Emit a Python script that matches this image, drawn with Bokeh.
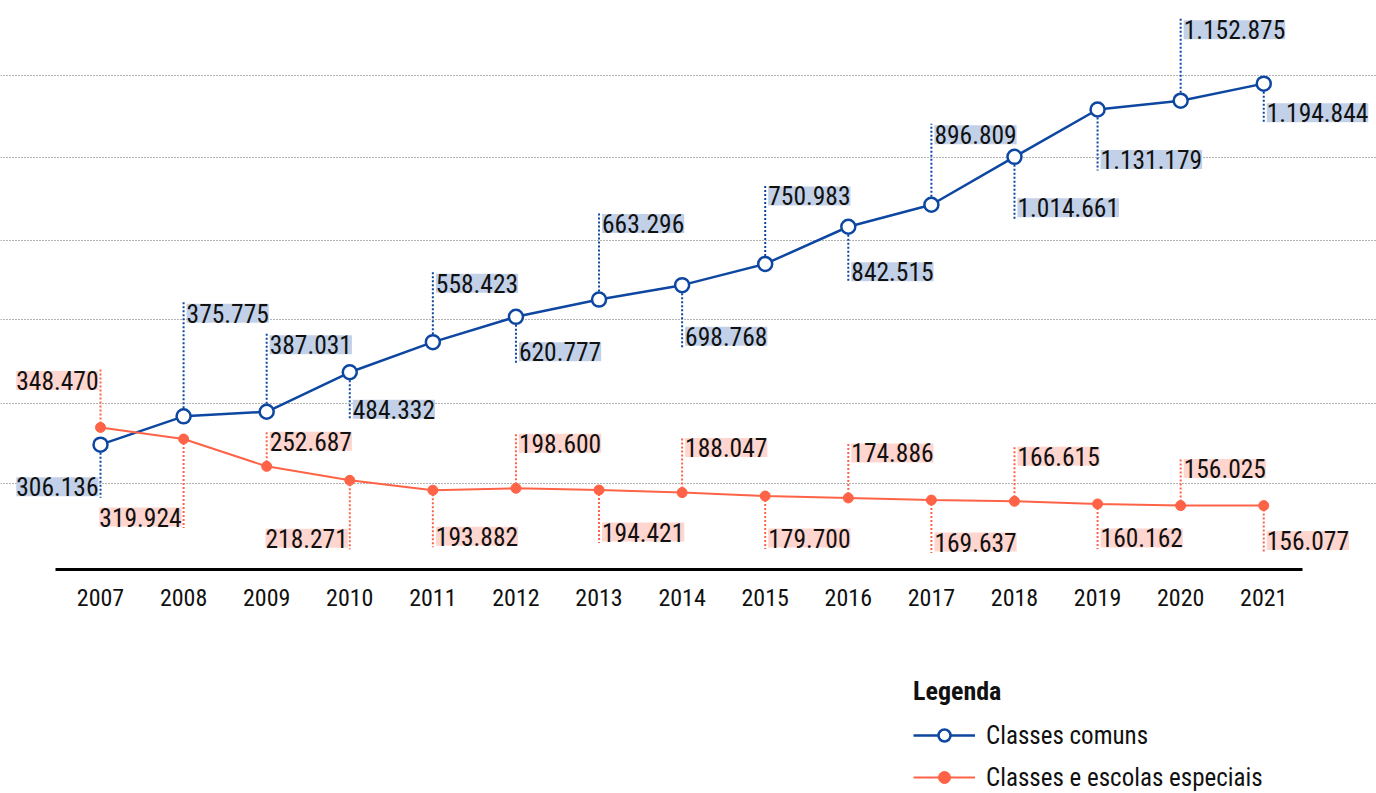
import math
from bokeh.plotting import figure
from bokeh.models import (ColumnDataSource, Range1d, LinearAxis, FixedTicker,
                          Grid, Legend, LegendItem)
from bokeh.core.properties import value
from bokeh.embed import file_html
from bokeh.resources import INLINE

# ---------------- data ----------------
years = [2007, 2008, 2009, 2010, 2011, 2012, 2013, 2014, 2015,
         2016, 2017, 2018, 2019, 2020, 2021]
classes_comuns = [306136, 375775, 387031, 484332, 558423, 620777, 663296,
                  698768, 750983, 842515, 896809, 1014661, 1131179,
                  1152875, 1194844]
classes_especiais = [348470, 319924, 252687, 218271, 193882, 198600, 194421,
                     188047, 179700, 174886, 169637, 166615, 160162,
                     156025, 156077]
grid_values = [210000, 407000, 614000, 809000, 1013000, 1215000]
series_names = ["Classes comuns", "Classes e escolas especiais"]

# ---------------- layout / style (label placement, px; + = below point) ----
comuns_label_off = [42, -103, -67, 37, -59, 35, -76, 51, -68, 45, -70, 51, 50, -71, 29]
especiais_label_off = [-47, 78, -25, 58, 46, -45, 42, -45, 42, -45, 42, -45, 34, -37, 35]
comuns_align = ["right"] + ["left"] * 14
especiais_align = ["right", "right", "left", "right"] + ["left"] * 11

FONT = "Roboto Condensed"
BLUE = "#0D47A1"
RED = "#FF6347"
BLUE_BG = "#C3D1E8"
RED_BG = "#FFD6CF"
BOX_HALF = 11


def fmt(v):
    return f"{v:,}".replace(",", ".")


def label_source(vals, offs, aligns):
    return ColumnDataSource(dict(
        x=years, y=vals, text=[fmt(v) for v in vals],
        yoff=offs,
        xoff=[3 if a == "left" else -2 for a in aligns],
        align=aligns,
        ang=[-math.pi / 2 if o > 0 else math.pi / 2 for o in offs],
        length=[abs(o) + BOX_HALF for o in offs],
    ))


W, H = 1376, 793
p = figure(width=W, height=H, output_backend="svg", toolbar_location=None,
           x_axis_location=None, y_axis_location=None,
           x_range=Range1d(2005.7965, 2022.357),
           y_range=Range1d(-552674, 1399533),
           min_border=0, outline_line_color=None)
p.xgrid.visible = False
p.ygrid.visible = False

grid = Grid(dimension=1, ticker=FixedTicker(ticks=grid_values),
            grid_line_color="#666666", grid_line_dash="1 2", grid_line_width=1)
p.add_layout(grid, "center")

xaxis = LinearAxis(fixed_location=0, ticker=FixedTicker(ticks=years),
                   major_label_overrides={y: str(y) for y in years},
                   axis_line_width=3, axis_line_color="#000000",
                   bounds=(2006.458, 2021.462),
                   major_tick_line_color=None, minor_tick_line_color=None,
                   major_tick_out=0, major_tick_in=0,
                   major_label_standoff=20,
                   major_label_text_font=FONT,
                   major_label_text_font_size="24px",
                   major_label_text_color="#111111")
p.add_layout(xaxis, "below")

src_c = label_source(classes_comuns, comuns_label_off, comuns_align)
src_e = label_source(classes_especiais, especiais_label_off, especiais_align)

# leader lines
for src, col in ((src_c, BLUE), (src_e, RED)):
    p.ray(x="x", y="y", length="length", angle="ang", length_units="screen",
          source=src, line_color=col, line_width=2, line_dash="2 2")

# series
l1 = p.line(years, classes_comuns, line_color=BLUE, line_width=2.5)
s1 = p.scatter(years, classes_comuns, size=14, fill_color="white",
               line_color=BLUE, line_width=2.5)
l2 = p.line(years, classes_especiais, line_color=RED, line_width=2)
s2 = p.scatter(years, classes_especiais, size=10, fill_color=RED,
               line_color=RED, line_width=1)

# value labels
for src, bg in ((src_c, BLUE_BG), (src_e, RED_BG)):
    p.text(x="x", y="y", text="text", x_offset="xoff", y_offset="yoff",
           text_align="align", text_baseline="middle",
           text_font=value(FONT), text_font_size="25.5px", text_color="#111111",
           background_fill_color=bg, padding=0, source=src)

legend = Legend(items=[LegendItem(label=series_names[0], renderers=[l1, s1]),
                       LegendItem(label=series_names[1], renderers=[l2, s2])],
                title="Legenda", location=(913, 1),
                title_text_font=FONT, title_text_font_style="bold",
                title_text_font_size="26px", title_text_color="#111111",
                title_standoff=14,
                label_text_font=FONT, label_text_font_size="25px",
                label_text_color="#111111",
                glyph_width=62, glyph_height=30, label_standoff=11,
                spacing=12, padding=0, margin=0,
                border_line_color=None, background_fill_alpha=0)
p.add_layout(legend, "center")

open("out.html", "w").write(file_html(p, INLINE))
